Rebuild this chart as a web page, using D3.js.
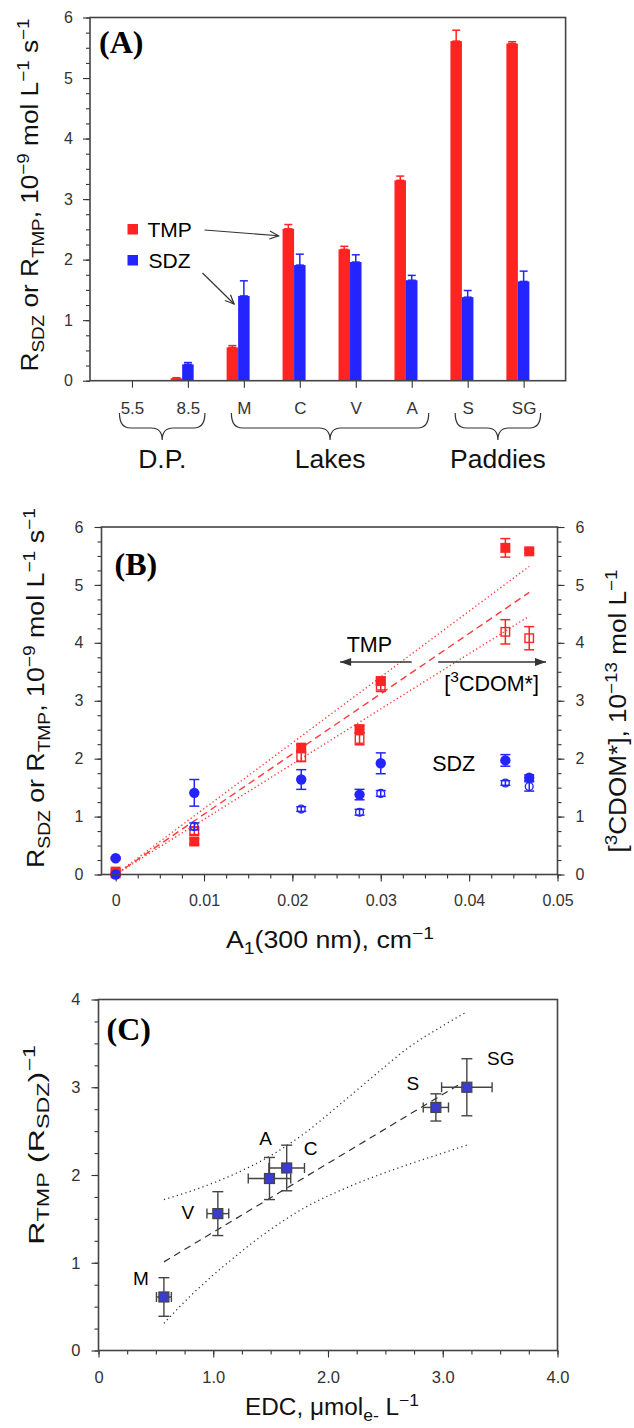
<!DOCTYPE html>
<html>
<head>
<meta charset="utf-8">
<script src="https://cdn.jsdelivr.net/npm/d3@7"></script>
<style>
  body { margin: 0; background: #fff; }
  svg { display: block; font-family: 'Liberation Sans', Arial, sans-serif; }
</style>
</head>
<body>
<svg width="634" height="1428"></svg>
<script>
'use strict'

// (A) rates per sample
const SITES = ['5.5', '8.5', 'M', 'C', 'V', 'A', 'S', 'SG'];
const TMP_RATE = [0.01, 0.04, 0.55, 2.51, 2.17, 3.31, 5.61, 5.57];
const TMP_ERR = [0, 0.01, 0.03, 0.07, 0.05, 0.07, 0.18, 0.03];
const SDZ_RATE = [0.005, 0.27, 1.40, 1.91, 1.96, 1.66, 1.38, 1.64];
const SDZ_ERR = [0, 0.03, 0.25, 0.18, 0.12, 0.08, 0.11, 0.17];
const GROUPS = ['D.P.', 'Lakes', 'Paddies'];
const GROUP_FIRST = ['5.5', 'M', 'S'];
const GROUP_LAST = ['8.5', 'A', 'SG'];
const A_TICKS = [0, 1, 2, 3, 4, 5, 6];

// (B) rates and [3CDOM*] vs A1(300 nm)
const B_X = [0, 0, 0.0089, 0.0210, 0.0276, 0.0300, 0.0441, 0.0468];
const B_TMP = [0.02, 0.05, 0.57, 2.19, 2.51, 3.34, 5.64, 5.58];
const B_TMP_ERR = [0, 0, 0.05, 0.05, 0.06, 0.06, 0.16, 0.03];
const B_CDOM_T = [null, null, 0.75, 2.03, 2.34, 3.26, 4.19, 4.08];
const B_CDOM_T_ERR = [0, 0, 0.06, 0.08, 0.10, 0.10, 0.21, 0.20];
const B_SDZ = [0, 0.28, 1.41, 1.64, 1.38, 1.92, 1.97, 1.67];
const B_SDZ_ERR = [0, 0.02, 0.23, 0.17, 0.09, 0.18, 0.10, 0.05];
const B_CDOM_S = [null, null, 0.83, 1.13, 1.075, 1.40, 1.58, 1.52];
const B_CDOM_S_ERR = [0, 0, 0.06, 0.04, 0.05, 0.05, 0.04, 0.08];
const B_FIT_X = [0, 0.0468];
const B_FIT = [0, 4.87];
const B_FIT_HI = [0, 5.32];
const B_FIT_LO = [0, 4.46];
const B_X_TICKS = [0, 0.01, 0.02, 0.03, 0.04, 0.05];
const B_Y_TICKS = [0, 1, 2, 3, 4, 5, 6];

// (C) R_TMP / R_SDZ vs EDC
const C_SITES = ['M', 'V', 'A', 'C', 'S', 'SG'];
const C_EDC = [0.57, 1.04, 1.49, 1.64, 2.94, 3.21];
const C_EDC_ERR = [0.065, 0.095, 0.185, 0.155, 0.11, 0.22];
const C_RATIO = [0.61, 1.56, 1.96, 2.08, 2.77, 3.00];
const C_RATIO_ERR = [0.22, 0.25, 0.24, 0.26, 0.155, 0.325];
const C_FIT_X = [0.57, 3.18];
const C_FIT = [1.01, 3.06];
const C_HI_X = [0.57, 0.9, 1.2, 1.5, 1.8, 2.1, 2.4, 2.7, 3.0, 3.21];
const C_HI = [1.72, 1.86, 2.02, 2.22, 2.48, 2.80, 3.13, 3.45, 3.70, 3.86];
const C_LO_X = [0.57, 0.8, 1.0, 1.2, 1.5, 1.8, 2.1, 2.4, 2.7, 3.0, 3.21];
const C_LO = [0.31, 0.62, 0.86, 1.08, 1.38, 1.63, 1.82, 1.98, 2.12, 2.25, 2.34];
const C_X_TICKS = [0, 1, 2, 3, 4];
const C_Y_TICKS = [0, 1, 2, 3, 4];

const RED = '#ff2424';
const BLUE = '#2424ff';
const INK = '#333';

const svg = d3.select('svg');

const defs = svg.append('defs');
defs.append('marker')
  .attr('id', 'openHead')
  .attr('viewBox', '-10 -6 12 12')
  .attr('markerWidth', 12).attr('markerHeight', 12)
  .attr('markerUnits', 'userSpaceOnUse')
  .attr('orient', 'auto')
  .append('path')
  .attr('d', 'M-9,-4 L0,0 L-9,4')
  .attr('fill', 'none').attr('stroke', INK).attr('stroke-width', 1.2);
defs.append('marker')
  .attr('id', 'solidHead')
  .attr('viewBox', '-12 -6 13 12')
  .attr('markerWidth', 13).attr('markerHeight', 12)
  .attr('markerUnits', 'userSpaceOnUse')
  .attr('orient', 'auto')
  .append('path')
  .attr('d', 'M-11,-4 L0,0 L-11,4 Z')
  .attr('fill', INK);

function richText(parent, parts, size) {
  const t = parent.append('text').attr('font-size', size);
  parts.forEach(p => {
    const s = t.append('tspan').text(p[0]);
    if (p[1] === 'sub') s.attr('font-size', size * 0.72).attr('baseline-shift', -size * 0.24);
    if (p[1] === 'sup') s.attr('font-size', size * 0.72).attr('baseline-shift', size * 0.4);
  });
  return t;
}

function title(parts, size, x, y, len, vertical) {
  const t = richText(svg, parts, size)
    .attr('text-anchor', 'middle')
    .attr('fill', '#111')
    .attr('transform', `translate(${x},${y})` + (vertical ? ' rotate(-90)' : ''));
  if (len) t.attr('textLength', len).attr('lengthAdjust', 'spacingAndGlyphs');
  return t;
}

function styleAxis(g, size) {
  g.attr('color', INK).attr('font-size', size).attr('font-family', null);
  g.select('.domain').remove();
  g.selectAll('.tick line').attr('stroke-width', 1.1);
  return g;
}

function frame(x, y) {
  svg.append('rect')
    .attr('x', x.range()[0]).attr('y', y.range()[1])
    .attr('width', x.range()[1] - x.range()[0])
    .attr('height', y.range()[0] - y.range()[1])
    .attr('fill', 'none').attr('stroke', '#444').attr('stroke-width', 1.6);
}

function vErr(g, x, y0, y1, cap, color, width) {
  g.append('line').attr('x1', x).attr('x2', x).attr('y1', y0).attr('y2', y1)
    .attr('stroke', color).attr('stroke-width', width);
  [y0, y1].forEach(yy => g.append('line')
    .attr('x1', x - cap / 2).attr('x2', x + cap / 2).attr('y1', yy).attr('y2', yy)
    .attr('stroke', color).attr('stroke-width', width));
}

function hErr(g, y, x0, x1, cap, color, width) {
  g.append('line').attr('x1', x0).attr('x2', x1).attr('y1', y).attr('y2', y)
    .attr('stroke', color).attr('stroke-width', width);
  [x0, x1].forEach(xx => g.append('line')
    .attr('x1', xx).attr('x2', xx).attr('y1', y - cap / 2).attr('y2', y + cap / 2)
    .attr('stroke', color).attr('stroke-width', width));
}

// ---------------- (A) ----------------
const xA = d3.scalePoint().domain(SITES).range([90, 565.6]).padding(0.75);
const yA = d3.scaleLinear().domain([0, 6]).range([380.7, 17.5]);
const barW = 11.5;

styleAxis(svg.append('g').attr('transform', 'translate(90,0)')
  .call(d3.axisLeft(yA).tickValues(d3.range(0, 6.001, 0.25)).tickSize(4).tickFormat('')), 16);
styleAxis(svg.append('g').attr('transform', 'translate(90,0)')
  .call(d3.axisLeft(yA).tickValues(A_TICKS).tickSize(7).tickPadding(10).tickFormat(d3.format('d'))), 16);
styleAxis(svg.append('g').attr('transform', `translate(0,${yA(0)})`)
  .call(d3.axisBottom(xA).tickSize(7).tickPadding(14)), 17);

const barsA = svg.append('g');
SITES.forEach((s, i) => {
  const cx = xA(s);
  barsA.append('rect')
    .attr('x', cx - barW * 1.5).attr('width', barW)
    .attr('y', yA(TMP_RATE[i])).attr('height', yA(0) - yA(TMP_RATE[i]))
    .attr('fill', RED);
  barsA.append('rect')
    .attr('x', cx - barW / 2).attr('width', barW)
    .attr('y', yA(SDZ_RATE[i])).attr('height', yA(0) - yA(SDZ_RATE[i]))
    .attr('fill', BLUE);
  if (TMP_ERR[i] > 0) vErr(barsA, cx - barW, yA(TMP_RATE[i]), yA(TMP_RATE[i] + TMP_ERR[i]), 8, RED, 1.5);
  if (SDZ_ERR[i] > 0) vErr(barsA, cx, yA(SDZ_RATE[i]), yA(SDZ_RATE[i] + SDZ_ERR[i]), 8, BLUE, 1.5);
});
frame(d3.scaleLinear().range([90, 565.6]), yA);

// legend with arrows
const legA = svg.append('g');
legA.append('rect').attr('x', 127.5).attr('y', 224).attr('width', 10.5).attr('height', 10.5).attr('fill', RED);
legA.append('rect').attr('x', 127.5).attr('y', 255).attr('width', 10.5).attr('height', 10.5).attr('fill', BLUE);
legA.append('text').attr('x', 147.5).attr('y', 237).attr('font-size', 21).text('TMP');
legA.append('text').attr('x', 148.5).attr('y', 268).attr('font-size', 21).text('SDZ');
legA.append('line')
  .attr('x1', 204.5).attr('y1', 230)
  .attr('x2', xA('C') - barW * 1.5 - 4).attr('y2', yA(TMP_RATE[3]) + 7)
  .attr('stroke', INK).attr('stroke-width', 1.2).attr('marker-end', 'url(#openHead)');
legA.append('line')
  .attr('x1', 202.5).attr('y1', 273)
  .attr('x2', xA('M') - barW / 2 - 4).attr('y2', yA(SDZ_RATE[2]) + 8)
  .attr('stroke', INK).attr('stroke-width', 1.2).attr('marker-end', 'url(#openHead)');

// group braces
GROUPS.forEach((name, i) => {
  const x1 = xA(GROUP_FIRST[i]) - 12.5;
  const x2 = xA(GROUP_LAST[i]) + 17;
  const xc = (x1 + x2) / 2;
  const yt = 413, ym = 428, yb = 440, r = 11;
  svg.append('path')
    .attr('d', `M${x1},${yt} Q${x1},${ym} ${x1 + r},${ym} L${xc - r},${ym} Q${xc},${ym} ${xc},${yb}` +
      ` Q${xc},${ym} ${xc + r},${ym} L${x2 - r},${ym} Q${x2},${ym} ${x2},${yt}`)
    .attr('fill', 'none').attr('stroke', INK).attr('stroke-width', 1.2);
  svg.append('text').attr('x', xc).attr('y', 468).attr('text-anchor', 'middle')
    .attr('font-size', 26.5).attr('fill', '#111').text(name);
});

svg.append('text').attr('x', 99).attr('y', 53).attr('font-family', "'Liberation Serif', 'Times New Roman', serif")
  .attr('font-weight', 'bold').attr('font-size', 32).text('(A)');

const rateTitle = [['R'], ['SDZ', 'sub'], [' or R'], ['TMP', 'sub'], [',  10'], ['−9', 'sup'],
  [' mol L'], ['−1', 'sup'], [' s'], ['−1', 'sup']];
title(rateTitle, 23, 38, 195, 353, true);

// ---------------- (B) ----------------
const xB = d3.scaleLinear().domain([-0.0016, 0.05]).range([101.5, 557.5]);
const yB = d3.scaleLinear().domain([0, 6]).range([874.5, 527]);

styleAxis(svg.append('g').attr('transform', `translate(0,${yB(0)})`)
  .call(d3.axisBottom(xB).tickValues(d3.range(0, 0.0501, 0.0025)).tickSize(4).tickFormat('')), 16);
styleAxis(svg.append('g').attr('transform', `translate(0,${yB(0)})`)
  .call(d3.axisBottom(xB).tickValues(B_X_TICKS).tickSize(7).tickPadding(13)
    .tickFormat(d => d === 0 ? '0' : d3.format('.2f')(d))), 16);
[['L', 101.5], ['R', 557.5]].forEach(([side, px]) => {
  const ax = side === 'L' ? d3.axisLeft : d3.axisRight;
  styleAxis(svg.append('g').attr('transform', `translate(${px},0)`)
    .call(ax(yB).tickValues(d3.range(0, 6.001, 0.25)).tickSize(4).tickFormat('')), 16);
  styleAxis(svg.append('g').attr('transform', `translate(${px},0)`)
    .call(ax(yB).tickValues(B_Y_TICKS).tickSize(7).tickPadding(11).tickFormat(d3.format('d'))), 16);
});

const fitLine = d3.line().x(d => xB(d[0])).y(d => yB(d[1]));
[[B_FIT, '7,4.5'], [B_FIT_HI, '1.3,2.6'], [B_FIT_LO, '1.3,2.6']].forEach(([ys, dash]) => {
  svg.append('path')
    .attr('d', fitLine(B_FIT_X.map((x, i) => [x, ys[i]])))
    .attr('fill', 'none').attr('stroke', '#ff3a3a').attr('stroke-width', 1.4)
    .attr('stroke-dasharray', dash);
});

const ptsB = svg.append('g');
function bSeries(vals, errs, color, shape, filled) {
  vals.forEach((v, i) => {
    if (v === null) return;
    const px = xB(B_X[i]), py = yB(v);
    if (errs[i] > 0) vErr(ptsB, px, yB(v - errs[i]), yB(v + errs[i]), 10, color, 1.5);
    if (shape === 'square') {
      const s = filled ? 10 : 8.5;
      ptsB.append('rect').attr('x', px - s / 2).attr('y', py - s / 2).attr('width', s).attr('height', s)
        .attr('fill', filled ? color : 'none').attr('stroke', color).attr('stroke-width', filled ? 0 : 1.4);
    } else {
      ptsB.append('circle').attr('cx', px).attr('cy', py).attr('r', filled ? 5.2 : 3.9)
        .attr('fill', filled ? color : 'none').attr('stroke', color).attr('stroke-width', filled ? 0 : 1.4);
    }
  });
}
bSeries(B_CDOM_T, B_CDOM_T_ERR, RED, 'square', false);
bSeries(B_TMP, B_TMP_ERR, RED, 'square', true);
bSeries(B_CDOM_S, B_CDOM_S_ERR, BLUE, 'circle', false);
bSeries(B_SDZ, B_SDZ_ERR, BLUE, 'circle', true);
frame(xB, yB);

// annotations
svg.append('text').attr('x', xB(0.02872)).attr('y', yB(3.85)).attr('text-anchor', 'middle')
  .attr('font-size', 21.5).text('TMP');
svg.append('line').attr('x1', xB(0.0335)).attr('x2', xB(0.0254)).attr('y1', yB(3.67)).attr('y2', yB(3.67))
  .attr('stroke', INK).attr('stroke-width', 1.5).attr('marker-end', 'url(#solidHead)');
svg.append('line').attr('x1', xB(0.0365)).attr('x2', xB(0.0487)).attr('y1', yB(3.67)).attr('y2', yB(3.67))
  .attr('stroke', INK).attr('stroke-width', 1.5).attr('marker-end', 'url(#solidHead)');
richText(svg, [['['], ['3', 'sup'], ['CDOM*]']], 21.5)
  .attr('x', xB(0.04255)).attr('y', yB(3.16)).attr('text-anchor', 'middle');
svg.append('text').attr('x', xB(0.03826)).attr('y', yB(1.78)).attr('text-anchor', 'middle')
  .attr('font-size', 21.5).text('SDZ');

svg.append('text').attr('x', 114.5).attr('y', 575).attr('font-family', "'Liberation Serif', 'Times New Roman', serif")
  .attr('font-weight', 'bold').attr('font-size', 32).text('(B)');

title(rateTitle, 23, 44, 688, 360, true);
title([['['], ['3', 'sup'], ['CDOM*], 10'], ['−13', 'sup'], [' mol L'], ['−1', 'sup']], 23, 626, 711, 283, true);
title([['A'], ['1', 'sub'], ['(300 nm), cm'], ['−1', 'sup']], 23, 330, 948, 208, false);

// ---------------- (C) ----------------
const xC = d3.scaleLinear().domain([0, 4]).range([98.5, 557.5]);
const yC = d3.scaleLinear().domain([0, 4]).range([1350.5, 999.5]);

styleAxis(svg.append('g').attr('transform', `translate(0,${yC(0)})`)
  .call(d3.axisBottom(xC).tickValues(d3.range(0, 4.001, 0.25)).tickSize(4).tickFormat('')), 16);
styleAxis(svg.append('g').attr('transform', `translate(0,${yC(0)})`)
  .call(d3.axisBottom(xC).tickValues(C_X_TICKS).tickSize(7).tickPadding(14)
    .tickFormat(d => d === 0 ? '0' : d3.format('.1f')(d))), 16.5);
styleAxis(svg.append('g').attr('transform', 'translate(98.5,0)')
  .call(d3.axisLeft(yC).tickValues(d3.range(0, 4.001, 0.25)).tickSize(4).tickFormat('')), 16);
styleAxis(svg.append('g').attr('transform', 'translate(98.5,0)')
  .call(d3.axisLeft(yC).tickValues(C_Y_TICKS).tickSize(7).tickPadding(11).tickFormat(d3.format('d'))), 16.5);

const lineC = d3.line().x(d => xC(d[0])).y(d => yC(d[1]));
const curveC = d3.line().x(d => xC(d[0])).y(d => yC(d[1])).curve(d3.curveMonotoneX);
svg.append('path').attr('d', lineC(C_FIT_X.map((x, i) => [x, C_FIT[i]])))
  .attr('fill', 'none').attr('stroke', INK).attr('stroke-width', 1.2).attr('stroke-dasharray', '7,5');
[[C_HI_X, C_HI], [C_LO_X, C_LO]].forEach(([xs, ys]) => {
  svg.append('path').attr('d', curveC(xs.map((x, i) => [x, ys[i]])))
    .attr('fill', 'none').attr('stroke', INK).attr('stroke-width', 1.3).attr('stroke-dasharray', '1.2,3.3');
});

const C_LABEL_DX = [-23, -30, -4, 24, -23, 34];
const C_LABEL_DY = [-12, 5, -34, -13, -17, -22];
const ptsC = svg.append('g');
C_SITES.forEach((s, i) => {
  const px = xC(C_EDC[i]), py = yC(C_RATIO[i]);
  vErr(ptsC, px, yC(C_RATIO[i] - C_RATIO_ERR[i]), yC(C_RATIO[i] + C_RATIO_ERR[i]), 11, '#444', 1.4);
  hErr(ptsC, py, xC(C_EDC[i] - C_EDC_ERR[i]), xC(C_EDC[i] + C_EDC_ERR[i]), 10, '#444', 1.4);
});
C_SITES.forEach((s, i) => {
  const px = xC(C_EDC[i]), py = yC(C_RATIO[i]);
  ptsC.append('rect').attr('x', px - 5).attr('y', py - 5).attr('width', 10).attr('height', 10)
    .attr('fill', '#3b3bd0').attr('stroke', '#444').attr('stroke-width', 1.2);
  ptsC.append('text').attr('x', px + C_LABEL_DX[i]).attr('y', py + C_LABEL_DY[i])
    .attr('text-anchor', 'middle').attr('font-size', 19).text(s);
});
frame(xC, yC);

svg.append('text').attr('x', 106.5).attr('y', 1040).attr('font-family', "'Liberation Serif', 'Times New Roman', serif")
  .attr('font-weight', 'bold').attr('font-size', 32).text('(C)');

title([['R'], ['TMP', 'sub'], [' (R'], ['SDZ', 'sub'], [')'], ['−1', 'sup']], 22, 44, 1145, 200, true);
title([['EDC, μmol'], ['e-', 'sub'], [' L'], ['−1', 'sup']], 23, 332, 1415, 174, false);
</script>
</body>
</html>
